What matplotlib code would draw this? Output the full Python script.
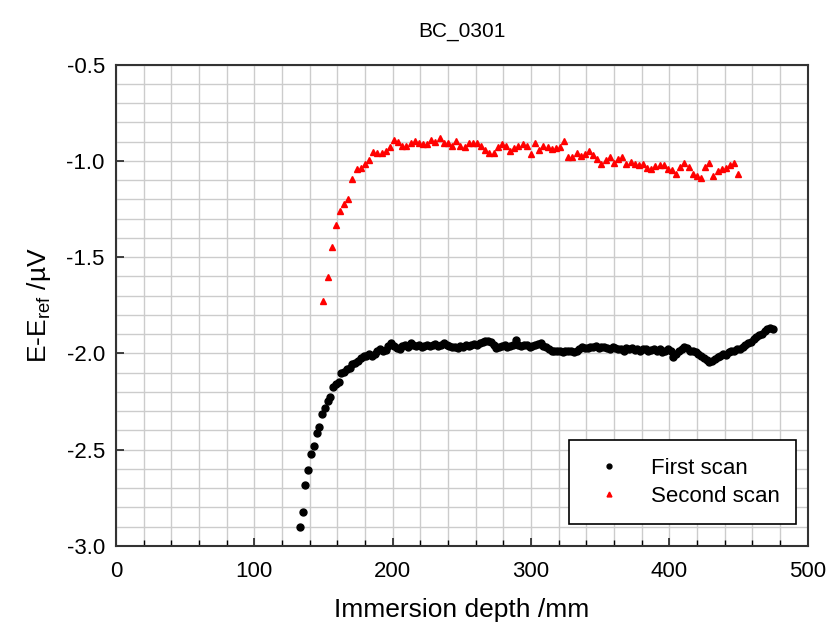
import numpy as np
import matplotlib
matplotlib.use("Agg")
import matplotlib.pyplot as plt
from matplotlib.ticker import MultipleLocator

plt.rcParams["font.family"] = ["Liberation Sans", "DejaVu Sans"]
plt.rcParams["mathtext.default"] = "regular"

# first scan: every 2 mm from 133 mm
first_x = np.arange(133, 476, 2)
first_y = [
    -2.903, -2.822, -2.683, -2.604, -2.522, -2.482, -2.413, -2.381, -2.313, -2.282,
    -2.249, -2.225, -2.176, -2.160, -2.147, -2.103, -2.097, -2.083, -2.074, -2.057,
    -2.051, -2.040, -2.022, -2.013, -2.013, -2.003, -2.012, -2.003, -1.986, -1.977,
    -1.989, -1.982, -1.960, -1.948, -1.960, -1.973,
    -1.975, -1.960, -1.955, -1.965, -1.948, -1.955, -1.962, -1.958, -1.965,
    -1.960, -1.955, -1.962, -1.958, -1.952, -1.960, -1.955, -1.948, -1.955, -1.962,
    -1.968, -1.965, -1.970, -1.962, -1.965, -1.958, -1.960, -1.955, -1.952, -1.958,
    -1.948, -1.942, -1.938, -1.935, -1.942, -1.958, -1.972, -1.968, -1.962, -1.958,
    -1.965, -1.962, -1.958, -1.932, -1.958, -1.962, -1.955, -1.958, -1.965, -1.960,
    -1.958, -1.952, -1.948, -1.962, -1.968, -1.975, -1.985, -1.990, -1.985, -1.990,
    -1.995, -1.988, -1.985, -1.990, -1.995, -1.985, -1.975, -1.968, -1.972, -1.970,
    -1.965, -1.968, -1.962, -1.970, -1.965, -1.968, -1.972, -1.975, -1.968, -1.972,
    -1.978, -1.975, -1.985, -1.972, -1.975, -1.970, -1.980, -1.975, -1.985, -1.978,
    -1.975, -1.990, -1.982, -1.975, -1.985, -1.978, -1.995, -1.985, -1.975, -1.990,
    -2.018, -2.005, -1.985, -1.975, -1.968, -1.972, -1.985, -1.990, -1.995, -2.005,
    -2.015, -2.025, -2.035, -2.045, -2.040, -2.028, -2.018, -2.012, -2.005, -2.010,
    -1.995, -1.985, -1.985, -1.975, -1.978, -1.965, -1.955, -1.948, -1.940, -1.925,
    -1.915, -1.905, -1.900, -1.885, -1.875, -1.868, -1.872,
]

# second scan: every 3 mm from 150 mm
second_x = np.arange(150, 451, 3)
second_y = [
    -1.726, -1.602, -1.446, -1.333, -1.261, -1.226, -1.200, -1.096, -1.044, -1.036,
    -1.018, -0.996, -0.954, -0.961, -0.958, -0.951, -0.930, -0.892, -0.901, -0.925,
    -0.925, -0.909, -0.896, -0.908, -0.913, -0.913, -0.892, -0.900, -0.883, -0.907,
    -0.905, -0.923, -0.899, -0.925, -0.927, -0.906, -0.909, -0.909, -0.923, -0.944,
    -0.958, -0.958, -0.927, -0.915, -0.921, -0.947, -0.935, -0.923, -0.915, -0.923,
    -0.966, -0.909, -0.944, -0.923, -0.927, -0.939, -0.932, -0.927, -0.896, -0.979,
    -0.979, -0.958, -0.975, -0.966, -0.947, -0.972, -0.991, -1.018, -0.996, -0.979,
    -1.013, -0.991, -0.982, -1.018, -1.005, -1.018, -1.022, -1.018, -1.039, -1.044,
    -1.025, -1.022, -1.022, -1.044, -1.048, -1.069, -1.034, -1.013, -1.031, -1.069,
    -1.079, -1.088, -1.034, -1.013, -1.077, -1.051, -1.043, -1.039, -1.022, -1.013,
    -1.070,
]

fig = plt.figure(figsize=(8.32, 6.35), dpi=100)
ax = fig.add_axes([0.1394, 0.1402, 0.8312, 0.7582])

ax.plot(first_x, first_y, "o", color="black", markersize=5, label="First scan")
ax.plot(second_x, second_y, "^", color="red", markersize=5, label="Second scan")

ax.set_xlim(0, 500)
ax.set_ylim(-3.0, -0.5)
ax.xaxis.set_major_locator(MultipleLocator(100))
ax.xaxis.set_minor_locator(MultipleLocator(20))
ax.yaxis.set_major_locator(MultipleLocator(0.5))
ax.yaxis.set_minor_locator(MultipleLocator(0.1))
ax.yaxis.set_major_formatter(plt.FuncFormatter(lambda v, p: f"{v:.1f}"))

ax.grid(True, which="both", color="#cccccc", linewidth=1)
ax.set_axisbelow(True)
ax.tick_params(axis="both", which="major", direction="in", length=6, width=1.2,
               labelsize=16, colors="#222222", labelcolor="black")
ax.tick_params(axis="x", which="major", pad=11)
ax.tick_params(axis="y", which="major", pad=8)
ax.tick_params(axis="x", which="minor", direction="in", length=4, width=1)
ax.tick_params(axis="y", which="minor", length=0)
for s in ax.spines.values():
    s.set_color("#333333")
    s.set_linewidth(1.5)

ax.set_title("BC_0301", fontsize=15, pad=20)
ax.set_xlabel("Immersion depth /mm", fontsize=19, labelpad=11)
ax.set_ylabel("E-E$_{ref}$ /µV", fontsize=19, labelpad=10)

leg = ax.legend(loc="lower left", bbox_to_anchor=(0.655, 0.045, 0.328, 0.168),
                mode="expand", fontsize=16, markerscale=0.7, fancybox=False,
                edgecolor="black", framealpha=1, borderpad=0.8, labelspacing=0.3,
                handletextpad=0.9, borderaxespad=0)
leg.get_frame().set_linewidth(1.2)

fig.savefig("out.png", dpi=100)
